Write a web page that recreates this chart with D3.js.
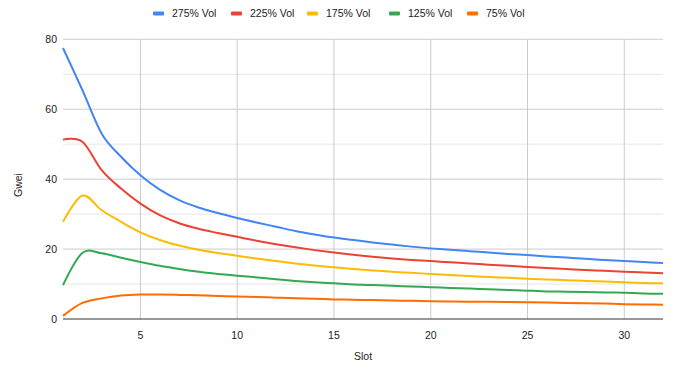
<!DOCTYPE html>
<html>
<head>
<meta charset="utf-8">
<script src="https://cdn.jsdelivr.net/npm/d3@7"></script>
<style>
  html, body { margin: 0; padding: 0; background: #fff; }
  svg { display: block; font-family: Arial, "Liberation Sans", sans-serif; }
</style>
</head>
<body>
<svg id="chart" width="690" height="369"></svg>
<script>
const slots = d3.range(1, 33);
const seriesNames = ["275% Vol", "225% Vol", "175% Vol", "125% Vol", "75% Vol"];
const vol275 = [77.5, 65.5, 53.0, 46.4, 41.1, 37.0, 34.0, 31.9, 30.3, 28.9, 27.6, 26.4, 25.2, 24.2, 23.3, 22.6, 21.9, 21.3, 20.7, 20.2, 19.8, 19.4, 19.0, 18.6, 18.3, 17.9, 17.6, 17.2, 16.9, 16.6, 16.3, 16.0];
const vol225 = [51.3, 50.7, 42.6, 37.3, 33.0, 29.7, 27.4, 25.8, 24.6, 23.5, 22.4, 21.4, 20.5, 19.7, 19.0, 18.4, 17.8, 17.3, 16.9, 16.6, 16.2, 15.9, 15.5, 15.2, 14.9, 14.6, 14.3, 14.0, 13.8, 13.5, 13.3, 13.1];
const vol175 = [27.8, 35.3, 31.1, 27.8, 24.8, 22.6, 21.0, 19.8, 18.9, 18.1, 17.3, 16.6, 15.9, 15.3, 14.8, 14.3, 13.9, 13.5, 13.2, 12.9, 12.6, 12.3, 12.0, 11.8, 11.5, 11.3, 11.1, 10.9, 10.7, 10.5, 10.3, 10.2];
const vol125 = [9.7, 18.9, 18.8, 17.5, 16.3, 15.2, 14.3, 13.5, 12.9, 12.4, 11.9, 11.4, 10.9, 10.5, 10.2, 9.9, 9.7, 9.5, 9.3, 9.1, 8.9, 8.7, 8.5, 8.3, 8.1, 7.9, 7.8, 7.7, 7.6, 7.5, 7.3, 7.2];
const vol75 = [0.9, 4.6, 5.9, 6.7, 7.0, 7.0, 6.9, 6.8, 6.6, 6.4, 6.3, 6.1, 5.9, 5.8, 5.6, 5.5, 5.4, 5.3, 5.2, 5.1, 5.0, 4.95, 4.9, 4.85, 4.8, 4.7, 4.6, 4.5, 4.4, 4.25, 4.15, 4.1];
const colors = ["#4285F4", "#EA4335", "#FBBC04", "#34A853", "#FF6D01"];
const xTicks = [5, 10, 15, 20, 25, 30];
const yTicks = [0, 20, 40, 60, 80];
const yMinor = [10, 30, 50, 70];

const allSeries = [vol275, vol225, vol175, vol125, vol75];
const svg = d3.select("#chart");
const x = d3.scaleLinear().domain([1, 32]).range([63, 663]);
const y = d3.scaleLinear().domain([0, 80]).range([319, 39.3]);
const fs = "10.5px";

// minor gridlines
svg.append("g").selectAll("line").data(yMinor).join("line")
  .attr("x1", x(1)).attr("x2", x(32))
  .attr("y1", d => y(d)).attr("y2", d => y(d))
  .attr("stroke", "#e6e6e6").attr("stroke-width", 1);
// major gridlines
svg.append("g").selectAll("line").data(yTicks.filter(d => d > 0)).join("line")
  .attr("x1", x(1)).attr("x2", x(32))
  .attr("y1", d => y(d)).attr("y2", d => y(d))
  .attr("stroke", "#cccccc").attr("stroke-width", 1);
svg.append("g").selectAll("line").data(xTicks).join("line")
  .attr("x1", d => x(d)).attr("x2", d => x(d))
  .attr("y1", y(0)).attr("y2", y(80))
  .attr("stroke", "#cccccc").attr("stroke-width", 1);

// y tick labels
svg.append("g").selectAll("text").data(yTicks).join("text")
  .attr("x", 57).attr("y", d => y(d)).attr("dy", "0.35em")
  .attr("text-anchor", "end").attr("font-size", fs).attr("fill", "#222")
  .text(d => d);
// x tick labels
svg.append("g").selectAll("text").data(xTicks).join("text")
  .attr("x", d => x(d)).attr("y", 339)
  .attr("text-anchor", "middle").attr("font-size", fs).attr("fill", "#222")
  .text(d => d);

// lines
const line = d3.line().x((d, i) => x(slots[i])).y(d => y(d)).curve(d3.curveCatmullRom.alpha(0));
svg.append("g").selectAll("path").data(allSeries.slice().reverse()).join("path")
  .attr("d", d => line(d))
  .attr("fill", "none")
  .attr("stroke", (d, i) => colors[colors.length - 1 - i])
  .attr("stroke-width", 2);

// baseline
svg.append("line").attr("x1", x(1)).attr("x2", x(32)).attr("y1", y(0)).attr("y2", y(0))
  .attr("stroke", "#333").attr("stroke-width", 1);

// axis titles
svg.append("text").attr("x", x(16.5)).attr("y", 360).attr("text-anchor", "middle")
  .attr("font-size", fs).attr("fill", "#222").text("Slot");
svg.append("text").attr("transform", "translate(22,185) rotate(-90)").attr("text-anchor", "middle")
  .attr("font-size", fs).attr("fill", "#222").text("Gwei");

// legend
const legX = [153, 231, 307, 389, 467];
const leg = svg.append("g").selectAll("g").data(seriesNames).join("g")
  .attr("transform", (d, i) => `translate(${legX[i]},13.5)`);
leg.append("rect").attr("x", 0).attr("y", -2).attr("width", 11).attr("height", 4)
  .attr("rx", 1).attr("fill", (d, i) => colors[i]);
leg.append("text").attr("x", 19).attr("dy", "0.35em").attr("font-size", fs).attr("fill", "#222")
  .text(d => d);
</script>
</body>
</html>
